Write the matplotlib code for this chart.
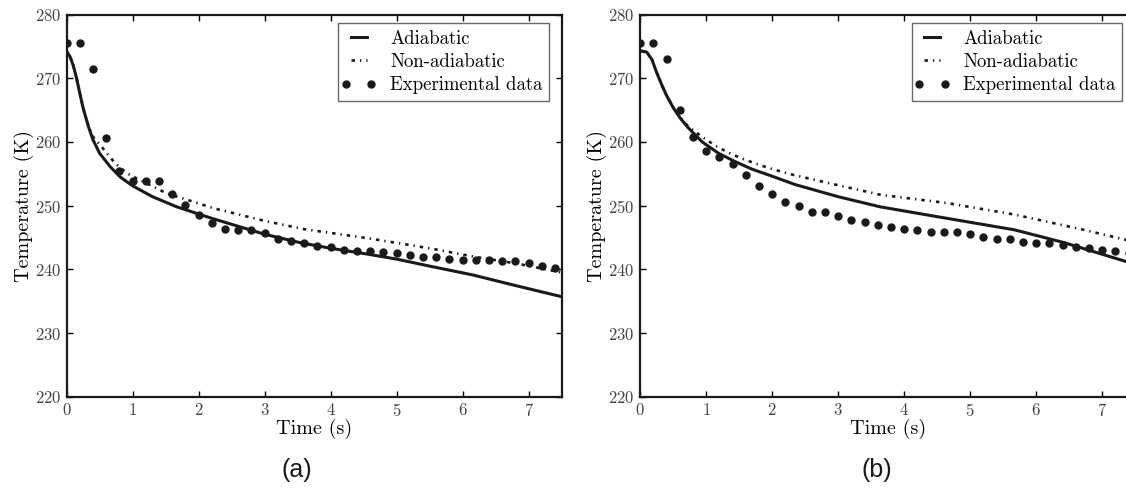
import numpy as np
import matplotlib
matplotlib.use("Agg")
import matplotlib.pyplot as plt
from matplotlib.legend_handler import HandlerLine2D

plt.rcParams["font.family"] = "cmr10"
plt.rcParams["axes.formatter.use_mathtext"] = True

# sampling times of the measurements (s)
t_exp = [0.0, 0.2, 0.4, 0.6, 0.8, 1.0, 1.2, 1.4, 1.6, 1.8, 2.0, 2.2, 2.4, 2.6,
         2.8, 3.0, 3.2, 3.4, 3.6, 3.8, 4.0, 4.2, 4.4, 4.6, 4.8, 5.0, 5.2, 5.4,
         5.6, 5.8, 6.0, 6.2, 6.4, 6.6, 6.8, 7.0, 7.2, 7.4]

# case (a)
T_exp_a = [275.6, 275.6, 271.4, 260.6, 255.5, 253.8, 253.9, 253.8, 251.8, 250.1,
           248.5, 247.2, 246.3, 246.2, 246.1, 245.7, 244.8, 244.4, 244.2, 243.7,
           243.5, 243.1, 242.8, 242.8, 242.7, 242.6, 242.3, 242.0, 242.0, 241.6,
           241.5, 241.4, 241.5, 241.3, 241.3, 241.0, 240.5, 240.2]
t_adi_a = [0.0, 0.05, 0.10, 0.15, 0.20, 0.25, 0.33, 0.40, 0.50, 0.66, 0.81, 1.0,
           1.3, 1.67, 2.2, 3.0, 3.53, 4.0, 4.55, 5.0, 5.5, 6.16, 6.82, 7.5]
T_adi_a = [274.2, 273.4, 272.0, 270.0, 267.6, 265.3, 262.4, 260.3, 258.2, 256.1,
           254.5, 253.1, 251.4, 249.8, 248.0, 245.5, 244.2, 243.3, 242.4, 241.6,
           240.5, 239.1, 237.4, 235.7]
t_non_a = [0.0, 0.05, 0.10, 0.15, 0.20, 0.25, 0.33, 0.40, 0.50, 0.58, 0.73, 0.91,
           1.11, 1.31, 1.52, 1.92, 2.22, 3.0, 3.6, 4.55, 5.5, 6.16, 6.82, 7.5]
T_non_a = [274.2, 273.4, 272.0, 270.0, 267.6, 265.3, 262.5, 260.8, 259.6, 258.6,
           256.7, 255.1, 254.0, 253.0, 251.9, 250.6, 249.6, 247.6, 246.3, 244.9,
           243.3, 242.0, 240.9, 239.5]

# case (b)
T_exp_b = [275.6, 275.6, 273.0, 265.0, 260.8, 258.6, 257.7, 256.5, 254.8, 253.1,
           251.8, 250.6, 249.9, 249.0, 249.0, 248.3, 247.7, 247.4, 247.0, 246.6,
           246.3, 246.1, 245.8, 245.8, 245.8, 245.6, 245.1, 244.8, 244.7, 244.3,
           244.1, 244.1, 243.8, 243.5, 243.3, 243.0, 242.8, 242.5]
t_adi_b = [0.0, 0.10, 0.18, 0.25, 0.33, 0.40, 0.50, 0.61, 0.73, 0.94, 1.19, 1.44,
           1.70, 1.95, 2.35, 3.0, 3.64, 4.65, 5.67, 6.42, 7.37, 7.5]
T_adi_b = [274.3, 274.1, 272.9, 270.9, 268.9, 267.3, 265.4, 263.7, 262.2, 260.0,
           258.2, 256.9, 255.7, 254.8, 253.3, 251.4, 249.8, 248.0, 246.2, 244.2,
           241.2, 240.8]
t_non_b = [0.0, 0.10, 0.18, 0.25, 0.33, 0.40, 0.50, 0.61, 0.73, 0.94, 1.14, 1.34,
           1.54, 1.75, 1.95, 2.15, 2.33, 3.0, 3.64, 4.65, 5.67, 6.68, 7.37, 7.5]
T_non_b = [274.3, 274.1, 272.9, 270.9, 268.9, 267.3, 265.4, 263.8, 262.4, 260.8,
           259.4, 258.3, 257.4, 256.6, 255.9, 255.3, 254.8, 253.2, 251.7, 250.4,
           248.6, 246.3, 244.6, 244.3]

panels = [
    ("(a)", t_adi_a, T_adi_a, t_non_a, T_non_a, T_exp_a),
    ("(b)", t_adi_b, T_adi_b, t_non_b, T_non_b, T_exp_b),
]

ink = "#1a1a1a"
fig = plt.figure(figsize=(11.26, 4.9), dpi=100)
lefts = [0.0592, 0.5685]
tag_x = [0.2638, 0.7790]

for (tag, ta, Ta, tn, Tn, Te), left, tx in zip(panels, lefts, tag_x):
    ax = fig.add_axes([left, 0.1904, 0.4396, 0.780])
    ax.plot(ta, Ta, color=ink, lw=2.2, label="Adiabatic")
    ax.plot(tn, Tn, color=ink, lw=1.9, ls=(0, (1.3, 1.9, 0.5, 1.9)),
            label="Non-adiabatic")
    pts, = ax.plot(t_exp, Te, "o", color=ink, ms=5, label="Experimental data")

    ax.set_xlim(0, 7.5)
    ax.set_ylim(220, 280)
    ax.set_xticks(range(0, 8))
    ax.set_yticks(range(220, 281, 10))
    ax.tick_params(direction="in", length=4, width=1, top=True, right=True,
                   labelsize=12, labelcolor="#444444", pad=4)
    for sp in ax.spines.values():
        sp.set_linewidth(1.6)
        sp.set_color(ink)

    ax.set_xlabel("Time (s)", fontsize=14.5, labelpad=0)
    ax.set_ylabel("Temperature (K)", fontsize=14.5)
    ax.yaxis.set_label_coords(-0.066, 0.5)

    leg = ax.legend(loc="upper right", bbox_to_anchor=(0.9743, 0.977),
                    borderaxespad=0, fancybox=False, numpoints=2,
                    handlelength=1.45, handletextpad=0.95, labelspacing=0.28,
                    borderpad=0.35, fontsize=13.5,
                    handler_map={pts: HandlerLine2D(marker_pad=0.05)})
    leg.get_frame().set_edgecolor("#444444")
    leg.get_frame().set_linewidth(1.0)

    fig.text(tx, 0.041, tag, fontsize=18, family="Liberation Sans",
             ha="center", va="center", color=ink)

fig.savefig("out.png", dpi=100)
